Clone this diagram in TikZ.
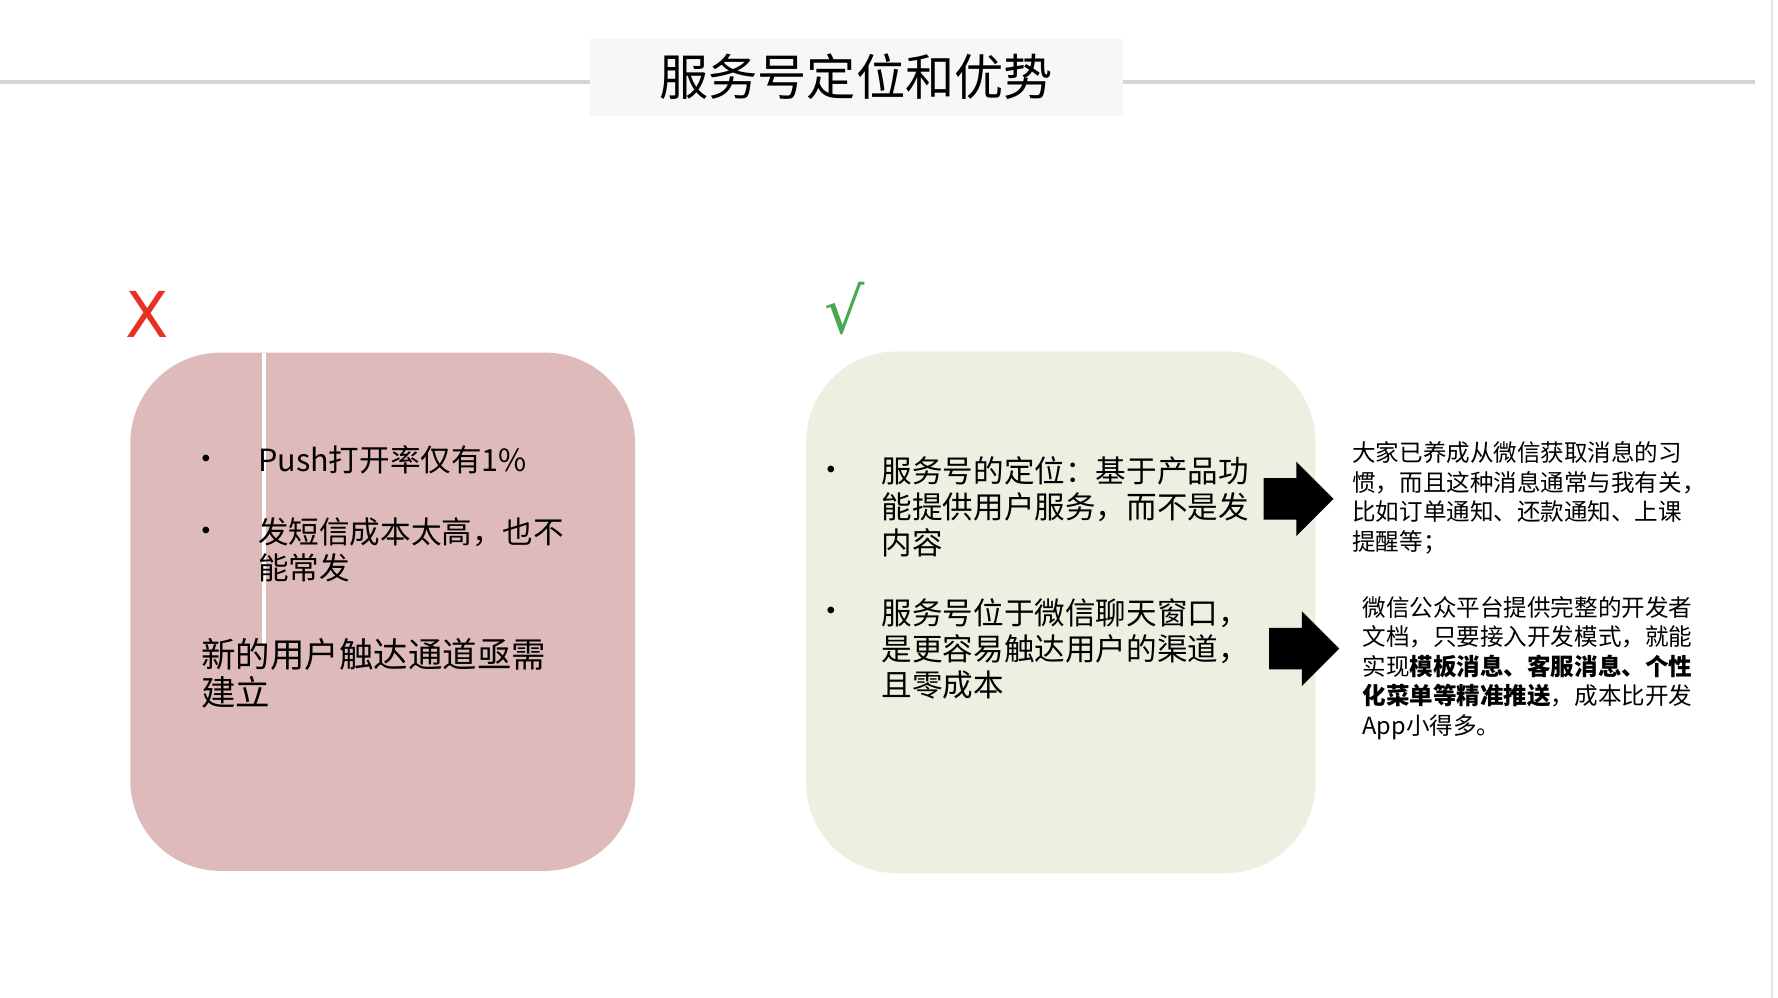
\documentclass[tikz,border=0pt]{standalone}
\usepackage{fontspec}
\setmainfont{Noto Sans CJK SC}
\newfontfamily\symfont{DejaVu Sans}
\usetikzlibrary{shapes.arrows}
\definecolor{pinkbox}{RGB}{223,186,186}
\definecolor{greenbox}{RGB}{236,240,224}
\definecolor{titlebg}{RGB}{246,247,248}
\definecolor{rulegray}{RGB}{212,212,212}
\definecolor{crossred}{RGB}{232,48,36}
\definecolor{checkgreen}{RGB}{72,170,80}
\begin{document}
\begin{tikzpicture}[x=0.01134cm,y=-0.01134cm,
		every node/.style={inner sep=0pt,align=left},
		bullettext/.style={anchor=north west,font=\fontsize{8.7}{10.3}\selectfont},
		dot/.style={font=\fontsize{9}{10}\selectfont},
		sidetext/.style={anchor=north west,font=\fontsize{6.7}{8.4}\selectfont},
		blockarrow/.style={single arrow,draw=none,fill=black,inner xsep=0pt,inner ysep=0.2cm,
			minimum height=0.7cm,minimum width=0.74cm,single arrow head extend=0.165cm}
	]
	\useasboundingbox[fill=white] (0,0) rectangle (1568,880);
	% title bar
	\draw[rulegray,line width=1.2pt] (0,72) -- (1548,72);
	\draw[rulegray!60,line width=0.6pt] (1563,0) -- (1563,880);
	\node[fill=titlebg,minimum width=470*0.01134cm,minimum height=68*0.01134cm,font=\fontsize{14}{16}\selectfont](title) at (755,68){服务号定位和优势};
	% left panel
	\node[text=crossred,font=\symfont\fontsize{18}{19}\selectfont](cross) at (130,277){X};
	\fill[pinkbox,rounded corners=0.9cm] (115,311) rectangle (560,768);
	\draw[white,line width=1pt] (233,311) -- (233,570);
	\node[dot](d1) at (182,408){•};
	\node[bullettext](t1) at (227,392){Push打开率仅有1\%};
	\node[dot](d2) at (182,472){•};
	\node[bullettext](t2) at (227,456){发短信成本太高，也不\\能常发};
	\node[anchor=north west,font=\fontsize{9.8}{10.8}\selectfont](need) at (177,562){新的用户触达通道亟需\\建立};
	% right panel
	\node[text=checkgreen,font=\symfont\fontsize{18}{19}\selectfont](check) at (745,272){√};
	\fill[greenbox,rounded corners=0.9cm] (711,310) rectangle (1160,770);
	\node[dot](d3) at (733,418){•};
	\node[bullettext](t3) at (777,402){服务号的定位：基于产品功\\能提供用户服务，而不是发\\内容};
	\node[dot](d4) at (733,542){•};
	\node[bullettext](t4) at (777,527){服务号位于微信聊天窗口，\\是更容易触达用户的渠道，\\且零成本};
	% arrows and notes
	\node[blockarrow](a1) at (1136,440){};
	\node[blockarrow](a2) at (1141,572){};
	\node[sidetext](n1) at (1192,389){大家已养成从微信获取消息的习\\惯，而且这种消息通常与我有关，\\比如订单通知、还款通知、上课\\提醒等；};
	\node[sidetext](n2) at (1201,525){微信公众平台提供完整的开发者\\文档，只要接入开发模式，就能\\实现\textbf{模板消息、客服消息、个性}\\\textbf{化菜单等精准推送}，成本比开发\\App小得多。};
\end{tikzpicture}
\end{document}
